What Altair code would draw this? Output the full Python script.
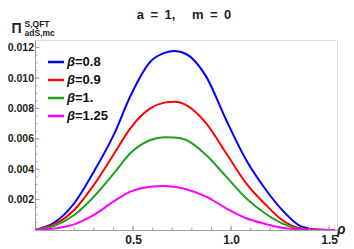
import altair as alt
import pandas as pd

rho = [0.0, 0.1, 0.2, 0.3, 0.405, 0.486, 0.588, 0.66, 0.71, 0.771, 0.873, 0.975, 1.077, 1.178, 1.26, 1.36, 1.45, 1.53]
b08 = [0.0, 0.0005, 0.00176, 0.00384, 0.00636, 0.0088, 0.01107, 0.01165, 0.01178, 0.01158, 0.01009, 0.00724, 0.0046, 0.00263, 0.00132, 0.00022, 0.00002, 0.0]
b09 = [0.0, 0.00038, 0.00132, 0.00296, 0.00505, 0.00669, 0.0080, 0.00838, 0.00844, 0.00822, 0.00702, 0.00505, 0.00307, 0.00164, 0.00066, 0.0001, 0.00001, 0.0]
b10 = [0.0, 0.00028, 0.00099, 0.00219, 0.00377, 0.00505, 0.00592, 0.0061, 0.00608, 0.00592, 0.00493, 0.00351, 0.00209, 0.00105, 0.00044, 0.00006, 0.0, 0.0]
b125 = [0.0, 0.0001, 0.00037, 0.00099, 0.00191, 0.00252, 0.00285, 0.00289, 0.00284, 0.00268, 0.00219, 0.00143, 0.00077, 0.00039, 0.00015, 0.00003, 0.0, 0.0]

labels = ["=0.8", "=0.9", "=1.", "=1.25"]
colors = ["#0000FF", "#FF0000", "#1FA01F", "#FF00FF"]
series = [b08, b09, b10, b125]

y_major = [0.002, 0.004, 0.006, 0.008, 0.010, 0.012]
y_minor = [round(0.0005 * k, 4) for k in range(1, 25)]
x_major = [0.5, 1.0, 1.5]
x_minor = [round(0.1 * k, 1) for k in range(1, 16)]

rows = []
for lab, vals in zip(labels, series):
    for r, v in zip(rho, vals):
        rows.append({"rho": r, "val": v, "beta": lab})
df = pd.DataFrame(rows)

W, H = 302, 190
xs = alt.Scale(domain=[0, 1.54], nice=False, zero=False)
ys = alt.Scale(domain=[0, 0.0125], nice=False)
FONT = "Liberation Sans"

xax = alt.Axis(values=x_major, format=".1f", title=None, ticks=False,
               grid=False, domainColor="#A0A0A0", labelFont=FONT, labelFontWeight="bold",
               labelFontSize=12, labelColor="#222222", labelPadding=4, labelOverlap=False)
yax = alt.Axis(values=y_major, format=".3f", title=None, ticks=False,
               grid=False, domainColor="#A0A0A0", labelFont=FONT, labelFontWeight="bold",
               labelFontSize=10.5, labelColor="#222222", labelPadding=1.5, labelOverlap=False)

lines = alt.Chart(df).mark_line(strokeWidth=2, interpolate="monotone", clip=True).encode(
    x=alt.X("rho:Q", scale=xs, axis=xax),
    y=alt.Y("val:Q", scale=ys, axis=yax),
    color=alt.Color("beta:N", scale=alt.Scale(domain=labels, range=colors), legend=None),
    detail="beta:N",
)

ytm = alt.Chart(pd.DataFrame({"v": y_minor})).mark_rule(color="#A0A0A0", strokeWidth=1).encode(
    y=alt.Y("v:Q", scale=ys, axis=yax), x=alt.value(0), x2=alt.value(2.5))
ytM = alt.Chart(pd.DataFrame({"v": y_major})).mark_rule(color="#A0A0A0", strokeWidth=1).encode(
    y=alt.Y("v:Q", scale=ys, axis=yax), x=alt.value(0), x2=alt.value(4.5))
xtm = alt.Chart(pd.DataFrame({"v": x_minor})).mark_rule(color="#A0A0A0", strokeWidth=1).encode(
    x=alt.X("v:Q", scale=xs, axis=xax), y=alt.value(H), y2=alt.value(H - 2.5))
xtM = alt.Chart(pd.DataFrame({"v": x_major})).mark_rule(color="#A0A0A0", strokeWidth=1).encode(
    x=alt.X("v:Q", scale=xs, axis=xax), y=alt.value(H), y2=alt.value(H - 4.5))

one = alt.Data(values=[{}])


def txt(text, x, y, size, italic=False, align="left", color="#222222", baseline="alphabetic"):
    return alt.Chart(one).mark_text(text=text, font=FONT, fontSize=size, fontWeight="bold",
                                    fontStyle="italic" if italic else "normal", align=align,
                                    baseline=baseline, color=color).encode(
        x=alt.value(x), y=alt.value(y))


layers = [lines, ytm, ytM, xtm, xtM]
layers.append(txt("a\u2002=\u20021,\u2003\u00a0m\u2002=\u20020", 149, -21.5, 13, align="center"))
layers.append(txt("\u03a0", -23.5, -6.7, 14))
layers.append(txt("S,QFT", -10.5, -13.2, 8.5))
layers.append(txt("adS,mc", -10.5, -4.5, 8.5))
layers.append(txt("\u03c1", 302, 194, 14, italic=True))

for i, (lab, col) in enumerate(zip(labels, colors)):
    yy = 22 + 18 * i
    layers.append(alt.Chart(one).mark_rule(color=col, strokeWidth=2.5).encode(
        x=alt.value(13), x2=alt.value(29), y=alt.value(yy)))
    layers.append(txt("\u03b2", 32, yy, 13, italic=True, baseline="middle", color="#111111"))
    layers.append(txt(lab, 40, yy, 13, baseline="middle", color="#111111"))

chart = alt.layer(*layers).properties(
    width=W, height=H,
    autosize=alt.AutoSizeParams(type="none"),
    padding={"left": 27, "top": 32, "right": 9, "bottom": 19},
).configure_view(stroke=None).configure(background="white")

chart.save("out.html", embed_options={"renderer": "svg", "actions": False})
